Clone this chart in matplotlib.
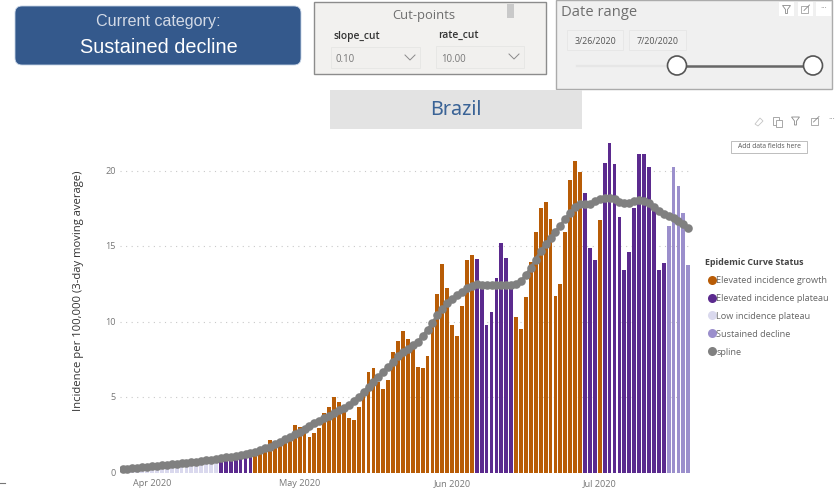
import matplotlib
matplotlib.use("Agg")
import matplotlib.pyplot as plt
import matplotlib.dates as mdates
import pandas as pd
from matplotlib.lines import Line2D
from matplotlib.patches import Rectangle, FancyBboxPatch, Circle, Polygon

W, H = 837, 488
UI = "Open Sans"

start_date = "2020-03-26"
incidence = [
    0.20, 0.25, 0.30, 0.33, 0.38, 0.42, 0.47, 0.50, 0.55, 0.58,
    0.62, 0.66, 0.70, 0.72, 0.75, 0.78, 0.80, 0.83, 0.87, 0.90,
    1.10, 1.15, 1.20, 1.32, 1.20, 1.25, 1.05,
    1.13, 1.39, 1.55, 2.16, 1.77, 1.94, 2.16, 2.27, 3.13, 3.00, 2.83, 2.32, 2.60, 2.94,
    3.93, 4.33, 4.99, 4.68, 4.10, 3.58, 3.47, 4.35, 5.20, 6.67, 6.89, 6.00, 5.56, 6.11,
    8.00, 8.72, 9.38, 8.87, 8.20, 7.00, 6.95, 7.73, 9.70, 11.80, 13.80, 12.20, 9.76, 9.05,
    11.00, 14.10, 14.40,
    14.16, 12.50, 9.80, 10.60, 12.86, 15.20, 14.20, 12.50,
    10.30, 9.50, 11.60, 13.96, 15.90, 17.50, 17.90, 16.80, 11.70, 12.50, 15.95, 19.40, 20.60, 19.90,
    18.50, 14.85, 14.07,
    16.70,
    20.50, 21.80, 20.40, 16.90, 13.40, 14.60, 17.50, 21.10, 21.07, 20.20, 17.50, 13.40, 13.85,
    16.30, 20.25, 19.00, 17.20, 13.75,
]
spline = [
    0.20, 0.24, 0.27, 0.31, 0.34, 0.38, 0.41, 0.45, 0.48, 0.52,
    0.55, 0.58, 0.62, 0.65, 0.69, 0.72, 0.76, 0.80, 0.85, 0.90,
    0.95, 1.00, 1.05, 1.10, 1.15, 1.20, 1.28, 1.37, 1.48, 1.60,
    1.72, 1.88, 2.04, 2.20, 2.36, 2.52, 2.70, 2.88, 3.07, 3.27,
    3.43, 3.58, 3.72, 3.92, 4.13, 4.30, 4.46, 4.72, 5.00, 5.33,
    5.67, 6.00, 6.33, 6.66, 7.00, 7.35, 7.70, 7.95, 8.20, 8.42,
    8.65, 9.04, 9.43, 9.92, 10.40, 10.80, 11.20, 11.47, 11.74, 11.97,
    12.20, 12.33, 12.47, 12.45, 12.43, 12.41, 12.40, 12.40, 12.40, 12.43,
    12.47, 12.67, 13.07, 13.56, 14.10, 14.66, 15.10, 15.55, 15.95, 16.35,
    16.80, 17.20, 17.60, 17.80, 17.80, 17.80, 18.00, 18.10, 18.15, 18.20,
    18.10, 17.90, 17.85, 17.87, 18.00, 18.05, 18.00, 17.85, 17.60, 17.30,
    17.10, 17.00, 16.85, 16.65, 16.45, 16.20,
]
status_names = ["Elevated incidence growth", "Elevated incidence plateau",
                "Low incidence plateau", "Sustained decline"]
status_colors = ["#B85C06", "#5B2A8E", "#DAD9EE", "#9B8FCC"]
spline_name = "spline"
status = ([2] * 20 + [1] * 7 + [0] * 45 + [1] * 8 + [0] * 14 + [1] * 3 + [0] * 1
          + [1] * 13 + [3] * 5)
y_ticks = [0, 5, 10, 15, 20]
month_ticks = ["2020-04-01", "2020-05-01", "2020-06-01", "2020-07-01"]
slope_value, rate_value = "0.10", "10.00"
range_from, range_to = "3/26/2020", "7/20/2020"

dates = pd.date_range(start_date, periods=len(incidence), freq="D")

fig = plt.figure(figsize=(W / 100, H / 100), dpi=100, facecolor="white")

# ---- chart axes, placed in pixels
L, R, T, B = 120, 692, 140, 472.5
ax = fig.add_axes([L / W, 1 - B / H, (R - L) / W, (B - T) / H])
px_day = 4.92
d0 = mdates.date2num(dates[0])
ax.set_xlim(d0 - (122.5 - L) / px_day, d0 + (R - 122.5) / px_day)
ax.set_ylim(0, (B - T) / 15.1)
ax.bar(dates, incidence, width=0.78,
       color=[status_colors[s] for s in status], linewidth=0, zorder=2)
ax.plot(dates, spline, color="#808080", lw=2.2, marker="o", ms=6.2, mew=0, zorder=3)
ax.set_yticks(y_ticks)
ax.set_xticks(pd.to_datetime(month_ticks))
ax.xaxis.set_major_formatter(mdates.DateFormatter("%b %Y"))
ax.tick_params(length=0, labelsize=6.6, labelcolor="#777777", pad=5)
for lab in ax.get_xticklabels() + ax.get_yticklabels():
    lab.set_fontfamily(UI)
ax.tick_params(axis="y", pad=3)
ax.grid(axis="y", color="#c9c9c9", lw=0.8, ls=(0, (1, 4)), zorder=1)
ax.set_axisbelow(True)
for s in ax.spines.values():
    s.set_visible(False)
ax.set_ylabel("Incidence per 100,000 (3-day moving average)", fontsize=8.1,
              color="#333333", family=UI)
ax.yaxis.set_label_coords((84 - L) / (R - L), (B - 291) / (B - T))

handles = [Line2D([], [], ls="", marker="o", ms=6.5, mew=0, color=c) for c in status_colors]
handles.append(Line2D([], [], ls="", marker="o", ms=6.5, mew=0, color="#808080"))
leg = fig.legend(handles, status_names + [spline_name], loc="upper left",
                 bbox_to_anchor=(702 / W, 1 - 255 / H), bbox_transform=fig.transFigure,
                 frameon=False, title="Epidemic Curve Status",
                 alignment="left", handletextpad=-0.25, labelspacing=0.98, borderpad=0.3,
                 borderaxespad=0, handlelength=1.5,
                 prop={"family": UI, "size": 6.6},
                 title_fontproperties={"family": UI, "size": 6.4, "weight": "bold"})
leg.get_title().set_color("#444444")
for t in leg.get_texts():
    t.set_color("#666666")

# ---- report furniture, in pixel coordinates
ui = fig.add_axes([0, 0, 1, 1], facecolor="none", zorder=5)
ui.set_xlim(0, W)
ui.set_ylim(H, 0)
ui.axis("off")


def box(x0, y0, x1, y1, fc, ec="none", lw=1.0, z=1):
    ui.add_patch(Rectangle((x0, y0), x1 - x0, y1 - y0, fc=fc, ec=ec, lw=lw, zorder=z))


def label(x, y, s, size, color, ha="left", family=UI, weight="normal"):
    ui.text(x, y, s, fontsize=size, color=color, ha=ha, va="center",
            family=family, weight=weight, zorder=6)


def chevron(x, y):
    ui.plot([x - 5, x, x + 5], [y - 3, y + 2, y - 3], color="#8a8a8a", lw=0.7, zorder=6)


def funnel(x, y, s=4.0):
    ui.add_patch(Polygon([(x - s, y - s), (x + s, y - s), (x + 1, y), (x + 1, y + s),
                          (x - 1, y + s), (x - 1, y)],
                         fc="none", ec="#8a8a8a", lw=0.6, zorder=6))


def expand(x, y, s=3.5):
    ui.add_patch(Rectangle((x - s, y - s), 2 * s, 2 * s, fc="none", ec="#a0a0a0", lw=0.6, zorder=6))
    ui.plot([x - 1, x + s + 1], [y + 1, y - s - 1], color="#8a8a8a", lw=0.6, zorder=7)


# category card
ui.add_patch(FancyBboxPatch((19, 10), 278, 51, boxstyle="round,pad=0,rounding_size=6",
                            fc="#34598C", ec="#34598C", lw=8 * 0 + 1, zorder=1,
                            mutation_aspect=1))
ui.add_patch(FancyBboxPatch((15, 6), 286, 59, boxstyle="round,pad=0,rounding_size=7",
                            fc="#34598C", ec="#C5D3E6", lw=0.6, zorder=1))
label(158, 21.5, "Current category:", 11.6, "#D3DAE6", ha="center", family="Liberation Sans")
label(158.5, 47.5, "Sustained decline", 14.3, "#FFFFFF", ha="center", family="Liberation Sans")

# cut-points panel
box(314, 2, 546, 74, "#F2F1EF", "#8C8C8C", 1.0)
label(424, 15, "Cut-points", 9.4, "#6E6E6E", ha="center")
box(507, 4, 514, 18, "#C9C9C9")
label(334, 36, "slope_cut", 7.4, "#333333", weight="semibold")
label(438, 35, "rate_cut", 7.4, "#333333", weight="semibold")
box(331, 47, 420, 68, "#F1F0EE", "#E6E6E4", 0.6)
box(436, 46, 524, 68, "#F1F0EE", "#E6E6E4", 0.6)
label(336, 60, slope_value, 6.9, "#777777")
label(441, 59, rate_value, 6.9, "#777777")
chevron(410, 58)
chevron(514, 57)

# date range panel
box(556, 0, 832, 89, "#F0F0F0", "#ABABAB", 1.0)
label(561, 12.5, "Date range", 10.6, "#6E6E6E")
box(567, 30, 623, 50, "#F1F1F1", "#E6E6E6", 0.6)
box(629, 30, 686, 50, "#F1F1F1", "#E6E6E6", 0.6)
label(595, 41, range_from, 6.4, "#555555", ha="center")
label(657.5, 41, range_to, 6.4, "#555555", ha="center")
ui.plot([577, 677], [65.5, 65.5], color="#E6E6E6", lw=1.6, zorder=2)
ui.plot([677, 813], [65.5, 65.5], color="#666666", lw=1.8, zorder=2)
for cx in (677, 813):
    ui.add_patch(Circle((cx, 65.5), 9.5, fc="white", ec="#555555", lw=1.2, zorder=3))
for x0 in (779, 798, 816):
    box(x0, 2, x0 + 15, 16, "#FFFFFF", z=2)
funnel(786.5, 9.5)
expand(805, 9.5)
label(823.5, 8.5, "···", 6, "#8a8a8a", ha="center")

# country title
box(330, 90, 582, 129, "#E3E3E3")
label(456, 110, "Brazil", 14.2, "#3A6396", ha="center", family="Noto Sans")

# chart header icons
ui.add_patch(Polygon([(755, 124), (760, 118), (763, 121), (758, 126)], fc="none",
                     ec="#c4c4c4", lw=0.6, zorder=6))
ui.add_patch(Rectangle((773, 117), 6, 8, fc="none", ec="#9a9a9a", lw=0.6, zorder=6))
ui.add_patch(Rectangle((776, 119.5), 6, 7.5, fc="white", ec="#9a9a9a", lw=0.6, zorder=6))
funnel(795.5, 121)
expand(814.5, 121)
label(832, 120, "···", 6, "#8a8a8a", ha="center")

# tooltip
box(731.5, 140.5, 807, 152.5, "#FFFFFF", "#BDBDBD", 0.7)
label(769, 146.5, "Add data fields here", 4.9, "#555555", ha="center")

# stray page mark at the bottom-left edge
ui.plot([0, 5], [483, 483], color="#777777", lw=0.8, zorder=6)

fig.savefig("out.png", dpi=100)
